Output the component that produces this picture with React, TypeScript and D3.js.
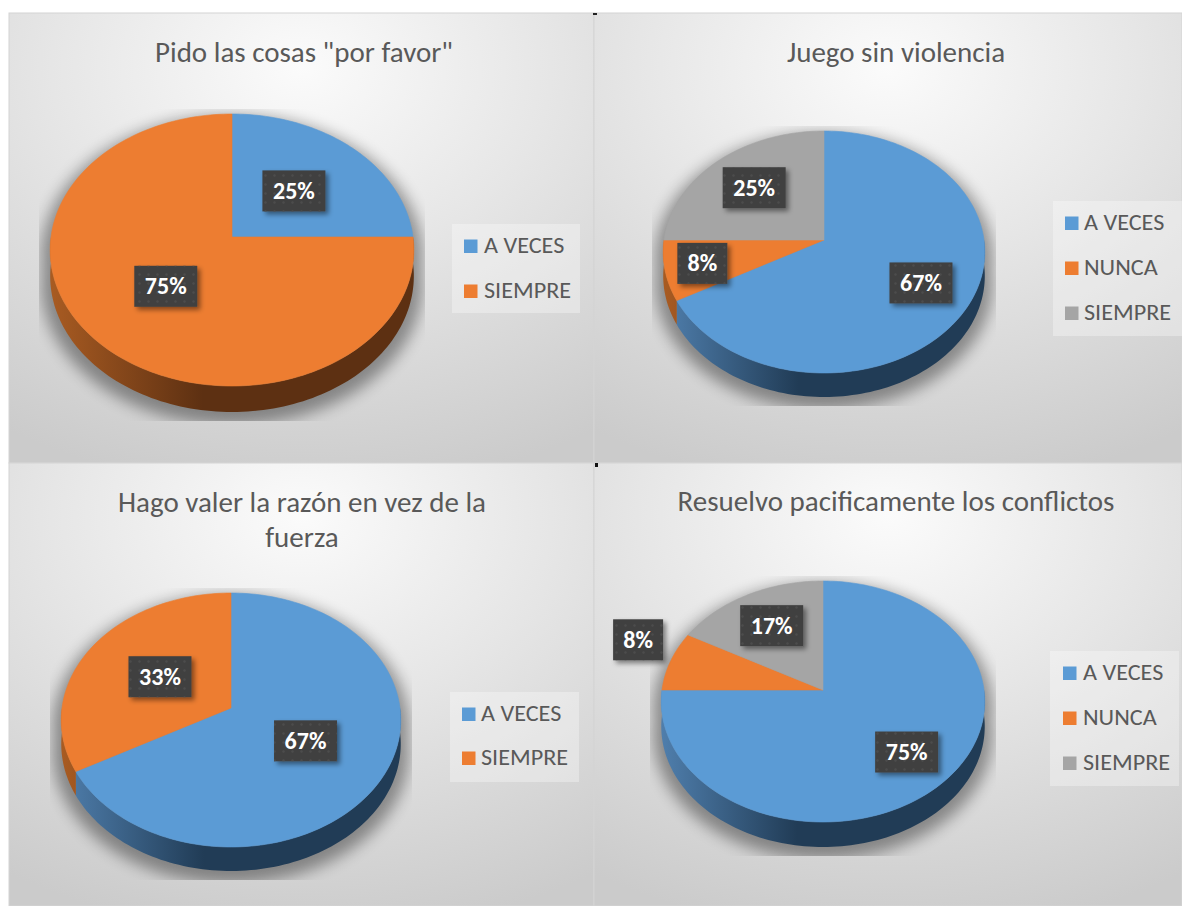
import React from "react";
import * as d3 from "d3";

// ---------- data ----------
const titlesPorFavor = ['Pido las cosas "por favor"'];
const titlesSinViolencia = ["Juego sin violencia"];
const titlesRazon = ["Hago valer la razón en vez de la", "fuerza"];
const titlesPacifico = ["Resuelvo pacificamente los conflictos"];

const categoriesTwo = ["A VECES", "SIEMPRE"];
const categoriesThree = ["A VECES", "NUNCA", "SIEMPRE"];

const valuesPorFavor = [25, 75];
const valuesSinViolencia = [67, 8, 25];
const valuesRazon = [67, 33];
const valuesPacifico = [75, 8, 17];

// ---------- styles ----------
const topColors = ["#5B9BD5", "#ED7D31", "#A5A5A5"];
const sideLight = ["#4F7EAC", "#A85B22", "#8C8C8C"];
const sideDark = ["#213C56", "#5D3012", "#555555"];
const FONT = "Calibri, Carlito, 'Open Sans', sans-serif";

// ---------- layout ----------
type Pie3 = { cx: number; cy: number; rx: number; up: number; down: number; depth: number };
type Layout = {
  panel: { x: number; y: number; w: number; h: number };
  titleX: number;
  titleY: number[];
  pie: Pie3;
  labels: { r: number; dx?: number; dy?: number }[];
  legend: { x: number; y: number; w: number; h: number; sq: number; tx: number; ys: number[] };
};

const charts = [
  { titles: titlesPorFavor, cats: categoriesTwo, values: valuesPorFavor },
  { titles: titlesSinViolencia, cats: categoriesThree, values: valuesSinViolencia },
  { titles: titlesRazon, cats: categoriesTwo, values: valuesRazon },
  { titles: titlesPacifico, cats: categoriesThree, values: valuesPacifico },
];

const layouts: Layout[] = [
  {
    panel: { x: 9, y: 13, w: 585, h: 450 },
    titleX: 304, titleY: [62],
    pie: { cx: 232, cy: 237, rx: 181, up: 123, down: 149, depth: 26 },
    labels: [{ r: 0.5 }, { r: 0.5 }],
    legend: { x: 452, y: 224, w: 128, h: 89, sq: 464, tx: 484, ys: [253, 298] },
  },
  {
    panel: { x: 594, y: 13, w: 588, h: 450 },
    titleX: 896, titleY: [62],
    pie: { cx: 824, cy: 240, rx: 160, up: 109, down: 133, depth: 24 },
    labels: [{ r: 0.68 }, { r: 0.77 }, { r: 0.645 }],
    legend: { x: 1053, y: 201, w: 129, h: 135, sq: 1065, tx: 1084, ys: [230, 275, 320] },
  },
  {
    panel: { x: 9, y: 463, w: 585, h: 443 },
    titleX: 302, titleY: [512, 547],
    pie: { cx: 231, cy: 708, rx: 169, up: 115, down: 139, depth: 24 },
    labels: [{ r: 0.5 }, { r: 0.5 }],
    legend: { x: 450, y: 692, w: 129, h: 90, sq: 462, tx: 481, ys: [721, 765] },
  },
  {
    panel: { x: 594, y: 463, w: 588, h: 443 },
    titleX: 896, titleY: [511],
    pie: { cx: 823, cy: 690, rx: 161, up: 109, down: 132, depth: 25 },
    labels: [{ r: 0.7 }, { r: 1.22, dy: -15 }, { r: 0.66 }],
    legend: { x: 1050, y: 651, w: 129, h: 135, sq: 1063, tx: 1083, ys: [680, 725, 770] },
  },
];

// perspective projection of a point on the pie disc
function project(pie: Pie3, r: number, a: number, dz = 0): [number, number] {
  const p = (pie.down - pie.up) / (pie.down + pie.up);
  const qs = pie.down * (1 - p);
  const X = r * Math.sin(a);
  const Y = -r * Math.cos(a);
  const k = 1 / (1 - p * Y);
  return [pie.cx + pie.rx * X * k, pie.cy + qs * Y * k + dz];
}

function arcPoints(pie: Pie3, a0: number, a1: number, dz = 0): [number, number][] {
  const n = Math.max(4, Math.ceil(Math.abs(a1 - a0) / (Math.PI / 120)));
  return d3.range(n + 1).map((i) => project(pie, 1, a0 + ((a1 - a0) * i) / n, dz));
}

const line = d3.line<[number, number]>().curve(d3.curveLinear);

function PieChart({ idx }: { idx: number }) {
  const c = charts[idx];
  const L = layouts[idx];
  const pie = L.pie;
  const color = d3.scaleOrdinal<number, string>().domain(d3.range(3)).range(topColors);
  const total = d3.sum(c.values);
  const fmt = d3.format(".0%");
  const arcs = d3.pie<number>().sort(null).value((d) => d)(c.values);

  const clipId = `clip-${idx}`;
  const bottomY = pie.cy + pie.down + pie.depth;

  const topOutline = line(arcPoints(pie, 0, Math.PI * 2)) + "Z";
  const botOutline = line(arcPoints(pie, 0, Math.PI * 2, pie.depth)) + "Z";

  return (
    <g>
      <defs>
        <radialGradient id={`bg-${idx}`} cx="50%" cy="12%" r="95%" fx="50%" fy="12%">
          <stop offset="0%" stopColor="#FBFBFB" />
          <stop offset="45%" stopColor="#E6E6E6" />
          <stop offset="100%" stopColor="#CBCBCB" />
        </radialGradient>
        {c.values.map((_, i) => (
          <linearGradient
            key={i}
            id={`side-${idx}-${i}`}
            gradientUnits="userSpaceOnUse"
            x1={pie.cx - pie.rx}
            x2={pie.cx + pie.rx}
            y1={0}
            y2={0}
          >
            <stop offset="0%" stopColor={sideLight[i]} />
            <stop offset="42%" stopColor={sideDark[i]} />
            <stop offset="100%" stopColor={sideDark[i]} />
          </linearGradient>
        ))}
        <clipPath id={clipId}>
          <rect
            x={pie.cx - pie.rx - 12}
            y={pie.cy - pie.up - 5}
            width={2 * pie.rx + 24}
            height={bottomY - (pie.cy - pie.up) + 14}
          />
        </clipPath>
      </defs>
      <rect
        x={L.panel.x}
        y={L.panel.y}
        width={L.panel.w}
        height={L.panel.h}
        fill={`url(#bg-${idx})`}
        stroke="#D4D4D4"
        strokeWidth={1}
      />
      {c.titles.map((t, i) => (
        <text
          key={i}
          x={L.titleX}
          y={L.titleY[i]}
          textAnchor="middle"
          fontFamily={FONT}
          fontSize={29}
          fill="#595959"
        >
          {t}
        </text>
      ))}
      <g clipPath={`url(#${clipId})`}>
        <g
          filter="url(#blur)"
          opacity={0.38}
          transform={`translate(${pie.cx},${pie.cy + 6}) scale(1.05,1.04) translate(${-pie.cx},${-pie.cy})`}
        >
          <path d={topOutline} fill="#000" />
          <path d={botOutline} fill="#000" />
        </g>
      </g>
      {arcs.map((a, i) => {
        const s = Math.max(a.startAngle, Math.PI / 2);
        const e = Math.min(a.endAngle, (Math.PI * 3) / 2);
        if (e <= s) return null;
        const top = arcPoints(pie, s, e);
        const bot = arcPoints(pie, s, e, pie.depth).reverse();
        return <path key={i} d={line([...top, ...bot]) + "Z"} fill={`url(#side-${idx}-${i})`} />;
      })}
      {arcs.map((a, i) => {
        const pts = [project(pie, 0, 0), ...arcPoints(pie, a.startAngle, a.endAngle)];
        return (
          <path
            key={i}
            d={line(pts) + "Z"}
            fill={color(i)}
            stroke={color(i)}
            strokeWidth={0.6}
          />
        );
      })}
      {arcs.map((a, i) => {
        const mid = (a.startAngle + a.endAngle) / 2;
        const conf = L.labels[i];
        const [lx, ly] = project(pie, conf.r, mid);
        const x = lx + (conf.dx || 0);
        const y = ly + (conf.dy || 0);
        const txt = fmt(a.value / total);
        const w = 24 + 13 * txt.length;
        const h = 41;
        return (
          <g key={i}>
            <rect x={x - w / 2} y={y - h / 2} width={w} height={h} fill="#404040" filter="url(#lblShadow)" />
            <rect x={x - w / 2} y={y - h / 2} width={w} height={h} fill="url(#dots)" />
            <text
              x={x}
              y={y + 8}
              textAnchor="middle"
              fontFamily={FONT}
              fontWeight="bold"
              fontSize={24}
              fill="#FFFFFF"
            >
              {txt}
            </text>
          </g>
        );
      })}
      <rect
        x={L.legend.x}
        y={L.legend.y}
        width={L.legend.w}
        height={L.legend.h}
        fill="#FFFFFF"
        fillOpacity={0.32}
      />
      {c.cats.map((cat, i) => (
        <g key={cat}>
          <rect x={L.legend.sq} y={L.legend.ys[i] - 13.5} width={13.5} height={13.5} fill={color(i)} />
          <text
            transform={`translate(${L.legend.tx},${L.legend.ys[i]}) scale(1.1,1)`}
            fontFamily={FONT}
            fontSize={22}
            fill="#595959"
          >
            {cat}
          </text>
        </g>
      ))}
    </g>
  );
}

export default function App() {
  return (
    <svg
      width={1182}
      height={906}
      style={{ position: "absolute", left: 0, top: 0, background: "#FFFFFF" }}
    >
      <defs>
        <filter id="blur" x="-20%" y="-20%" width="140%" height="140%">
          <feGaussianBlur stdDeviation={7} />
        </filter>
        <filter id="lblShadow" x="-30%" y="-30%" width="170%" height="170%">
          <feDropShadow dx={3} dy={3} stdDeviation={2.5} floodColor="#000" floodOpacity={0.45} />
        </filter>
        <pattern id="dots" width={9} height={9} patternUnits="userSpaceOnUse">
          <circle cx={4.5} cy={4.5} r={1.2} fill="#4C4C4C" />
        </pattern>
      </defs>
      {charts.map((_, i) => (
        <PieChart key={i} idx={i} />
      ))}
      <rect x={593} y={13} width={4} height={2} fill="#222" />
      <rect x={595} y={463} width={3} height={4} fill="#111" />
    </svg>
  );
}
